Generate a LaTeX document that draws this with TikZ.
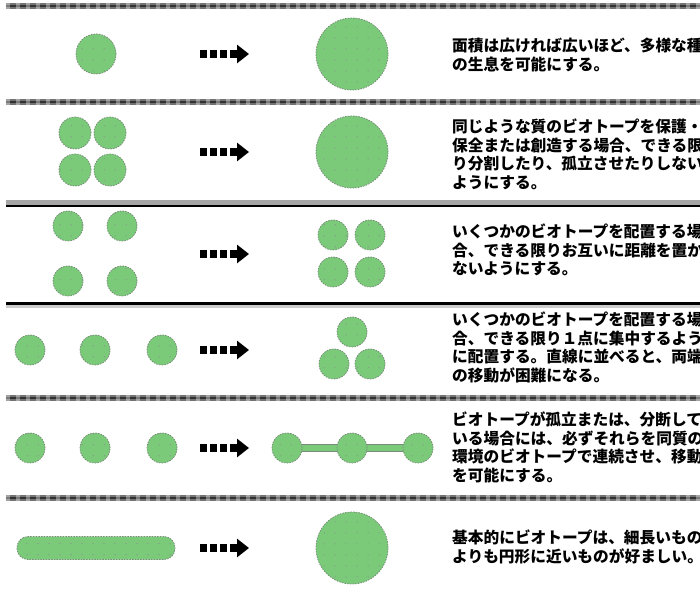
\documentclass[tikz,border=0pt]{standalone}
\usepackage{fontspec}
\newfontfamily\jp{Noto Sans CJK JP}
\usetikzlibrary{patterns.meta,arrows.meta}
\definecolor{gfill}{RGB}{122,202,122}
\definecolor{gedge}{RGB}{120,140,120}
\tikzdeclarepattern{name=gdots, type=uncolored,
  bounding box={(0pt,0pt) and (11pt,11pt)}, tile size={(11pt,11pt)},
  code={\pgfpathcircle{\pgfpoint{5.5pt}{5.5pt}}{0.7pt}\pgfusepath{fill}}}
\tikzset{
  gcirc/.style={circle, inner sep=0pt, minimum size=#1, draw=gedge, line width=0.8pt,
    dash pattern=on 1.5pt off 1.2pt, preaction={fill=gfill}, pattern=gdots, pattern color=black!45},
  grect/.style={rectangle, rounded corners=11pt, inner sep=0pt, draw=gedge, line width=0.8pt,
    dash pattern=on 1.5pt off 1.2pt, preaction={fill=gfill}, pattern=gdots, pattern color=black!45},
  dasharrow/.style={line width=8pt, dash pattern=on 7pt off 3pt,
    -{Triangle[length=12pt,width=18pt]}},
  desc/.style={anchor=north west, inner sep=0pt, align=left,
    font=\jp\bfseries\fontsize{15.7}{18.5}\selectfont},
  sepbar/.style={line width=6pt, black!55},
  sepcore/.style={line width=2.2pt, black!80},
  sephalf/.style={line width=6pt, white, opacity=0.35, dash pattern=on 4pt off 6pt},
  seplink/.style={line width=7.5pt, gedge},
  seplinkin/.style={line width=5.5pt, gfill}
}
\begin{document}
\begin{tikzpicture}[x=1pt,y=-1pt]
\useasboundingbox[fill=white] (0,0) rectangle (700,593);
% separators (patterned)
\foreach \yy/\nm in {6/sa,102/sb,398/se,498/sf}{
  \coordinate (\nm l) at (6,\yy); \coordinate (\nm r) at (700,\yy);
  \draw[sepbar] (\nm l) -- (\nm r);
  \draw[sepcore] (\nm l) -- (\nm r);
  \draw[sephalf] (\nm l) -- (\nm r);
}
% solid separators
\coordinate (scl) at (6,206); \coordinate (scr) at (700,206);
\draw[line width=5pt, black!35] ([yshift=3pt]scl) -- ([yshift=3pt]scr);
\draw[line width=2.5pt, black] (scl) -- (scr);
\coordinate (sdl) at (6,303.5); \coordinate (sdr) at (700,303.5);
\draw[line width=4pt, black!20] ([yshift=-2pt]sdl) -- ([yshift=-2pt]sdr);
\draw[line width=2.5pt, black] (sdl) -- (sdr);

% arrows
\foreach \yy/\nm in {54/a1,152/a2,254/a3,350/a4,448/a5,548/a6}{
  \coordinate (\nm s) at (200,\yy); \coordinate (\nm e) at (249,\yy);
  \draw[dasharrow] (\nm s) -- (\nm e);
}

% row 1
\node[gcirc=40pt] (r1a) at (96,54) {};
\node[gcirc=72pt] (r1b) at (352,54) {};
% row 2
\node[gcirc=32pt] (r2a) at (75,133) {};
\node[gcirc=32pt] (r2b) at (110,133) {};
\node[gcirc=32pt] (r2c) at (75,170) {};
\node[gcirc=32pt] (r2d) at (110,170) {};
\node[gcirc=72pt] (r2e) at (352,152) {};
% row 3
\node[gcirc=30pt] (r3a) at (68,226) {};
\node[gcirc=30pt] (r3b) at (122,226) {};
\node[gcirc=30pt] (r3c) at (68,281) {};
\node[gcirc=30pt] (r3d) at (122,281) {};
\node[gcirc=30pt] (r3e) at (333,235) {};
\node[gcirc=30pt] (r3f) at (370,235) {};
\node[gcirc=30pt] (r3g) at (333,272) {};
\node[gcirc=30pt] (r3h) at (370,272) {};
% row 4
\node[gcirc=30pt] (r4a) at (30,350) {};
\node[gcirc=30pt] (r4b) at (95,350) {};
\node[gcirc=30pt] (r4c) at (162,350) {};
\node[gcirc=30pt] (r4d) at (352,332) {};
\node[gcirc=30pt] (r4e) at (334,364) {};
\node[gcirc=30pt] (r4f) at (370,364) {};
% row 5
\node[gcirc=30pt] (r5a) at (30,448) {};
\node[gcirc=30pt] (r5b) at (95,448) {};
\node[gcirc=30pt] (r5c) at (162,448) {};
\coordinate (l5s) at (287,448); \coordinate (l5e) at (418,448);
\draw[seplink] (l5s) -- (l5e);
\draw[seplinkin] (l5s) -- (l5e);
\node[gcirc=30pt] (r5d) at (l5s) {};
\node[gcirc=30pt] (r5e) at (352,448) {};
\node[gcirc=30pt] (r5f) at (l5e) {};
% row 6
\node[grect, minimum width=158pt, minimum height=23pt] (r6a) at (96,548) {};
\node[gcirc=72pt] (r6b) at (352,548) {};

% texts
\node[desc] (t1) at (452,38) {面積は広ければ広いほど、多様な種\\の生息を可能にする。};
\node[desc] (t2) at (452,119) {同じような質のビオトープを保護・\\保全または創造する場合、できる限\\り分割したり、孤立させたりしない\\ようにする。};
\node[desc] (t3) at (452,224) {いくつかのビオトープを配置する場\\合、できる限りお互いに距離を置か\\ないようにする。};
\node[desc] (t4) at (452,312) {いくつかのビオトープを配置する場\\合、できる限り１点に集中するよう\\に配置する。直線に並べると、両端\\の移動が困難になる。};
\node[desc] (t5) at (452,412) {ビオトープが孤立または、分断して\\いる場合には、必ずそれらを同質の\\環境のビオトープで連続させ、移動\\を可能にする。};
\node[desc] (t6) at (452,530) {基本的にビオトープは、細長いもの\\よりも円形に近いものが好ましい。};
\end{tikzpicture}
\end{document}
